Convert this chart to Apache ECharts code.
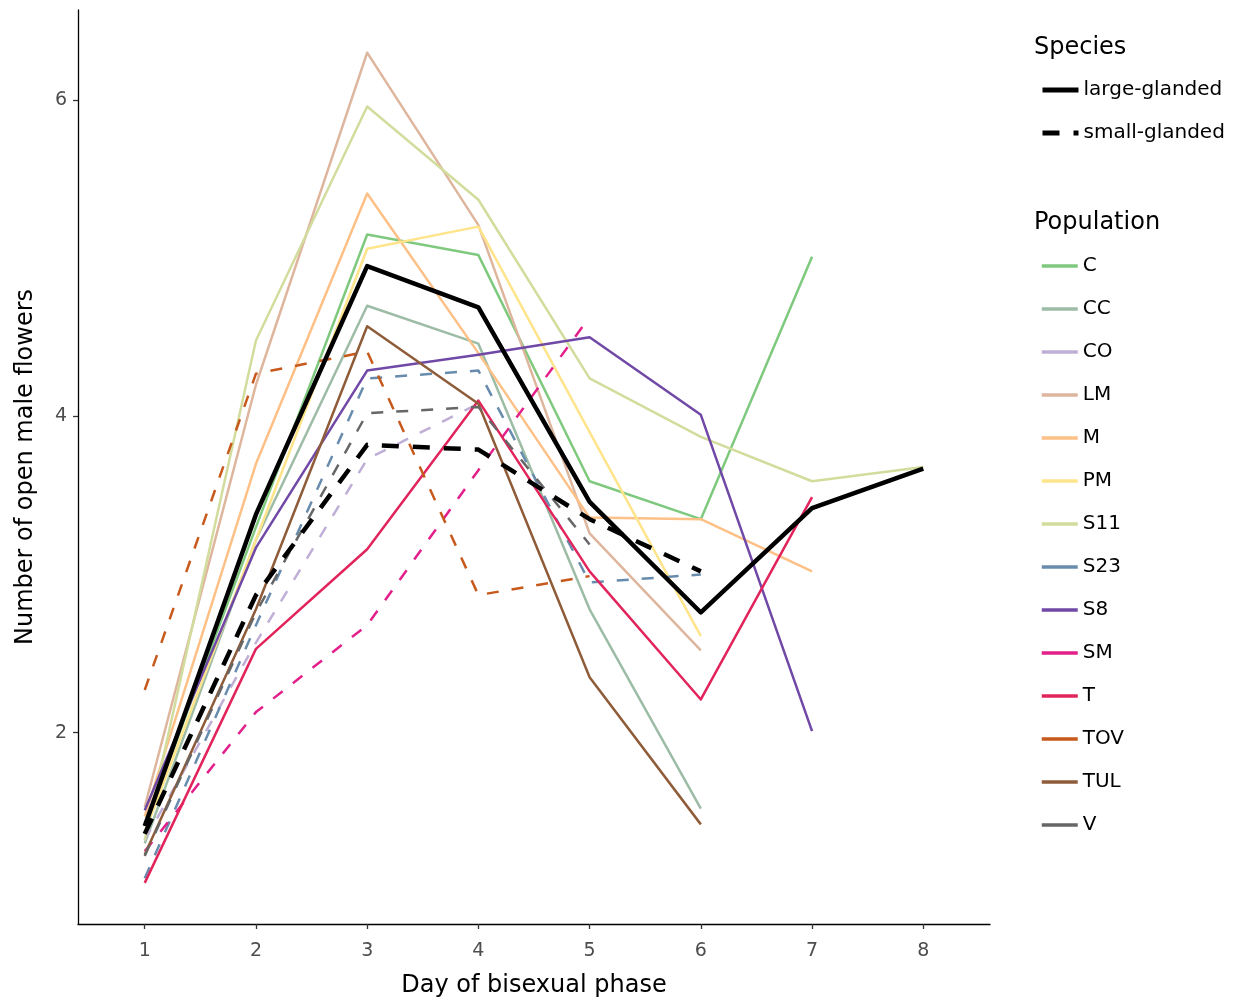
<!DOCTYPE html>
<html>
<head>
<meta charset="utf-8">
<title>Open male flowers by day</title>
<script src="https://cdn.jsdelivr.net/npm/echarts@6/dist/echarts.min.js"></script>
<style>
html, body { margin: 0; padding: 0; background: #fff; }
#chart { width: 1248px; height: 1003px; }
</style>
</head>
<body>
<div id="chart"></div>
<script>
var days = [1, 2, 3, 4, 5, 6, 7, 8];
var xTicks = [1, 2, 3, 4, 5, 6, 7, 8];
var yTicks = [2, 4, 6];

var populations = ['C', 'CC', 'CO', 'LM', 'M', 'PM', 'S11', 'S23', 'S8', 'SM', 'T', 'TOV', 'TUL', 'V'];
var popColors = ['#7fc97f', '#9dbca6', '#bfaed5', '#deb59d', '#fdc086', '#fee48a', '#d2dc9c', '#688cad',
	'#7048a6', '#e21f8a', '#e2245c', '#c7591c', '#8f5c3a', '#666666'];
var popDashed = [false, false, true, false, false, false, false, true, false, true, false, true, false, true];

// values per population, day 1..8 (null = not observed)
var valC   = [1.41, 3.30, 5.15, 5.02, 3.59, 3.35, 5.01, null];
var valCC  = [1.30, 3.22, 4.70, 4.46, 2.78, 1.52, null, null];
var valCO  = [1.32, 2.57, 3.73, 4.08, null, null, null, null];
var valLM  = [1.53, 4.20, 6.30, 5.21, 3.26, 2.52, null, null];
var valM   = [1.47, 3.70, 5.41, 4.40, 3.36, 3.35, 3.02, null];
var valPM  = [1.37, 3.22, 5.06, 5.20, 3.90, 2.61, null, null];
var valS11 = [1.32, 4.48, 5.96, 5.37, 4.24, 3.87, 3.59, 3.68];
var valS23 = [1.08, 2.68, 4.24, 4.29, 2.95, 3.00, null, null];
var valS8  = [1.51, 3.17, 4.29, 4.39, 4.50, 4.01, 2.01, null];
var valSM  = [1.25, 2.13, 2.68, 3.66, 4.63, null, null, null];
var valT   = [1.05, 2.53, 3.16, 4.10, 3.02, 2.21, 3.49, null];
var valTOV = [2.27, 4.27, 4.41, 2.87, 2.99, null, null, null];
var valTUL = [1.23, 2.78, 4.57, 4.08, 2.35, 1.42, null, null];
var valV   = [1.22, 2.76, 4.02, 4.06, 3.19, null, null, null];

var popValues = [valC, valCC, valCO, valLM, valM, valPM, valS11, valS23, valS8, valSM, valT, valTOV, valTUL, valV];

// species means
var speciesNames = ['large-glanded', 'small-glanded'];
var largeMean = [1.41, 3.38, 4.95, 4.69, 3.46, 2.76, 3.42, 3.67];
var smallMean = [1.36, 2.87, 3.82, 3.79, 3.35, 3.02, null, null];

var font = 'DejaVu Sans';

function toPoints(vals) {
	return days.map(function(d, i) {
		return [d, vals[i]];
	}).filter(function(p) {
		return p[1] !== null;
	});
}

var series = [];
populations.forEach(function(name, i) {
	series.push({
		name : name,
		type : 'line',
		data : toPoints(popValues[i]),
		symbol : 'none',
		smooth : false,
		color : popColors[i],
		lineStyle : {
			color : popColors[i],
			width : 2.5,
			type : popDashed[i] ? [12, 13] : 'solid',
			join : 'round'
		},
		emphasis : { disabled : true }
	});
});

series.push({
	name : speciesNames[0],
	type : 'line',
	data : toPoints(largeMean),
	symbol : 'none',
	color : '#000',
	lineStyle : { color : '#000', width : 4.5, type : 'solid', join : 'round' },
	emphasis : { disabled : true }
});
series.push({
	name : speciesNames[1],
	type : 'line',
	data : toPoints(smallMean),
	symbol : 'none',
	color : '#000',
	lineStyle : { color : '#000', width : 4.5, type : [17, 14], join : 'round' },
	emphasis : { disabled : true }
});

var legendBase = {
	orient : 'vertical',
	left : 1040,
	padding : 0,
	itemWidth : 36,
	itemHeight : 20,
	itemGap : 23,
	selectedMode : false,
	itemStyle : { opacity : 0 },
	textStyle : { fontFamily : font, fontSize : 20, color : '#000' }
};

var option = {
	animation : false,
	backgroundColor : '#fff',
	title : [ {
		text : 'Species',
		left : 1034,
		top : 36,
		padding : 0,
		textStyle : { fontFamily : font, fontSize : 24, fontWeight : 'normal', color : '#000' }
	}, {
		text : 'Population',
		left : 1034,
		top : 211,
		padding : 0,
		textStyle : { fontFamily : font, fontSize : 24, fontWeight : 'normal', color : '#000' }
	} ],
	legend : [
		Object.assign({}, legendBase, {
			top : 80,
			data : speciesNames,
			lineStyle : { width : 5 }
		}),
		Object.assign({}, legendBase, {
			top : 256,
			data : populations,
			lineStyle : { width : 3.5, type : 'solid' }
		})
	],
	grid : {
		left : 78,
		right : 258,
		top : 10,
		bottom : 78
	},
	xAxis : {
		type : 'value',
		min : 0.4,
		max : 8.6,
		name : 'Day of bisexual phase',
		nameLocation : 'middle',
		nameGap : 50,
		nameTextStyle : { fontFamily : font, fontSize : 24, color : '#000' },
		axisLine : { show : true, onZero : false, lineStyle : { color : '#000', width : 1.3 } },
		axisTick : { show : true, length : 5, customValues : xTicks, lineStyle : { color : '#333', width : 1.3 } },
		axisLabel : { customValues : xTicks, margin : 18, fontFamily : font, fontSize : 19, color : '#4d4d4d' },
		splitLine : { show : false }
	},
	yAxis : {
		type : 'value',
		min : 0.79,
		max : 6.57,
		name : 'Number of open male flowers',
		nameLocation : 'middle',
		nameGap : 40,
		nameRotate : 90,
		nameTextStyle : { fontFamily : font, fontSize : 24, color : '#000' },
		axisLine : { show : true, onZero : false, lineStyle : { color : '#000', width : 1.3 } },
		axisTick : { show : true, length : 5, customValues : yTicks, lineStyle : { color : '#333', width : 1.3 } },
		axisLabel : { customValues : yTicks, margin : 11, fontFamily : font, fontSize : 19, color : '#4d4d4d' },
		splitLine : { show : false }
	},
	series : series
};

var myChart = echarts.init(document.getElementById('chart'));
myChart.setOption(option);
</script>
</body>
</html>
